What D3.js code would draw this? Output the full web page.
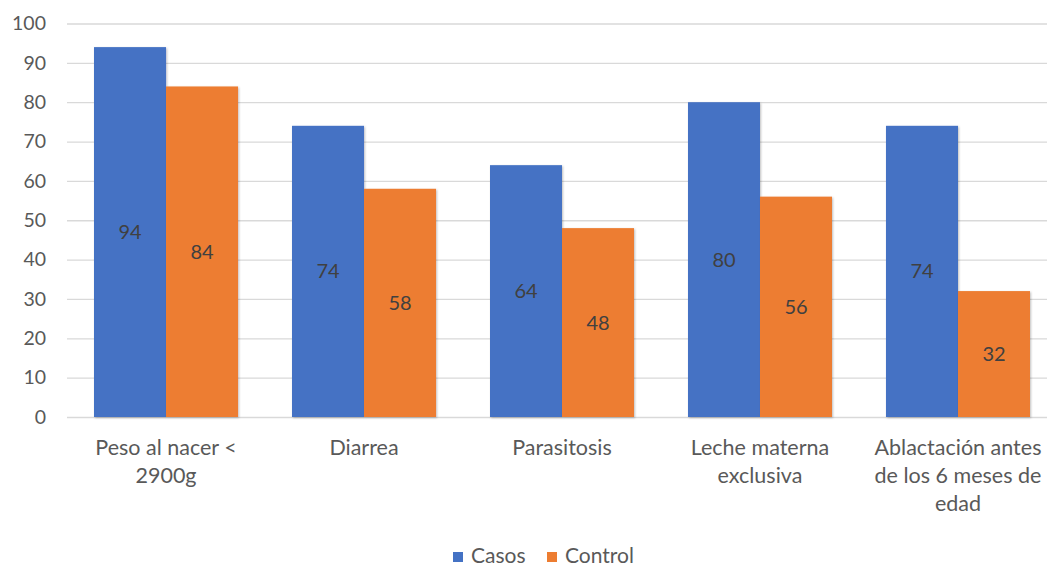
<!DOCTYPE html>
<html><head><meta charset="utf-8">
<script src="https://cdn.jsdelivr.net/npm/d3@7"></script>
<style>body{margin:0;background:#fff;} svg{display:block;font-family:Lato, "Open Sans", sans-serif;}</style>
</head><body>
<svg id="c" width="1047" height="567"></svg>
<script>
const categories = ["Peso al nacer < 2900g", "Diarrea", "Parasitosis", "Leche materna exclusiva", "Ablactación antes de los 6 meses de edad"];
const categoryLines = [["Peso al nacer <", "2900g"], ["Diarrea"], ["Parasitosis"], ["Leche materna", "exclusiva"], ["Ablactación antes", "de los 6 meses de", "edad"]];
const seriesNames = ["Casos", "Control"];
const casos = [94, 74, 64, 80, 74];
const control = [84, 58, 48, 56, 32];
const yTicks = [0, 10, 20, 30, 40, 50, 60, 70, 80, 90, 100];
const colors = ["#4472C4", "#ED7D31"];

(function () {
const svg = d3.select("#c");
const pL = 67, pR = 1057, pT = 23.5, pB = 417;
const x0 = d3.scaleBand().domain(categories).range([pL, pR]).paddingInner(0.2727).paddingOuter(0.1364);
const x1 = d3.scaleBand().domain(seriesNames).range([0, x0.bandwidth()]);
const y = d3.scaleLinear().domain([0, 100]).range([pB, pT]);
const textColor = "#595959";

const yAxis = d3.axisLeft(y).tickValues(yTicks).tickSize(-(1047 - pL)).tickPadding(21);
const ga = svg.append("g").attr("transform", `translate(${pL},0)`).call(yAxis);
ga.select(".domain").remove();
ga.selectAll(".tick line").attr("stroke", "#d9d9d9").attr("stroke-width", 1.3);
ga.selectAll(".tick text").attr("fill", textColor).style("font-size", "19.5px").style("font-family", "Lato, sans-serif");

const data = categories.map((c, i) => ({cat: c, vals: [casos[i], control[i]]}));
const defs = svg.append("defs");
const f = defs.append("filter").attr("id", "sh").attr("x", "-10%").attr("y", "-10%").attr("width", "130%").attr("height", "130%");
f.append("feDropShadow").attr("dx", 1).attr("dy", 1).attr("stdDeviation", 1.2).attr("flood-color", "#000").attr("flood-opacity", 0.25);

const g = svg.append("g").selectAll("g").data(data).join("g").attr("transform", d => `translate(${x0(d.cat)},0)`);
g.selectAll("rect").data(d => d.vals.map((v, j) => ({v, s: seriesNames[j], j})))
  .join("rect")
  .attr("x", d => x1(d.s)).attr("width", x1.bandwidth())
  .attr("y", d => y(d.v)).attr("height", d => y(0) - y(d.v))
  .attr("fill", d => colors[d.j]).attr("filter", "url(#sh)");
g.selectAll("text.v").data(d => d.vals.map((v, j) => ({v, s: seriesNames[j], j})))
  .join("text").attr("class", "v")
  .attr("x", d => x1(d.s) + x1.bandwidth() / 2)
  .attr("y", d => (y(d.v) + y(0)) / 2)
  .attr("dy", "0.35em").attr("text-anchor", "middle")
  .attr("fill", "#404040").style("font-size", "20px")
  .text(d => d.v);

categories.forEach((c, i) => {
  const cx = x0(c) + x0.bandwidth() / 2;
  const t = svg.append("text").attr("text-anchor", "middle").attr("fill", textColor).style("font-size", "21.5px");
  categoryLines[i].forEach((ln, k) => {
    t.append("tspan").attr("x", cx).attr("y", 455 + k * 28).text(ln);
  });
});

const lg = svg.append("g");
const legX = [453, 547];
seriesNames.forEach((s, i) => {
  lg.append("rect").attr("x", legX[i]).attr("y", 552).attr("width", 10).attr("height", 10).attr("fill", colors[i]);
  lg.append("text").attr("x", legX[i] + 18).attr("y", 563).attr("fill", textColor).style("font-size", "21px").text(s);
});
})();
</script>
</body></html>
